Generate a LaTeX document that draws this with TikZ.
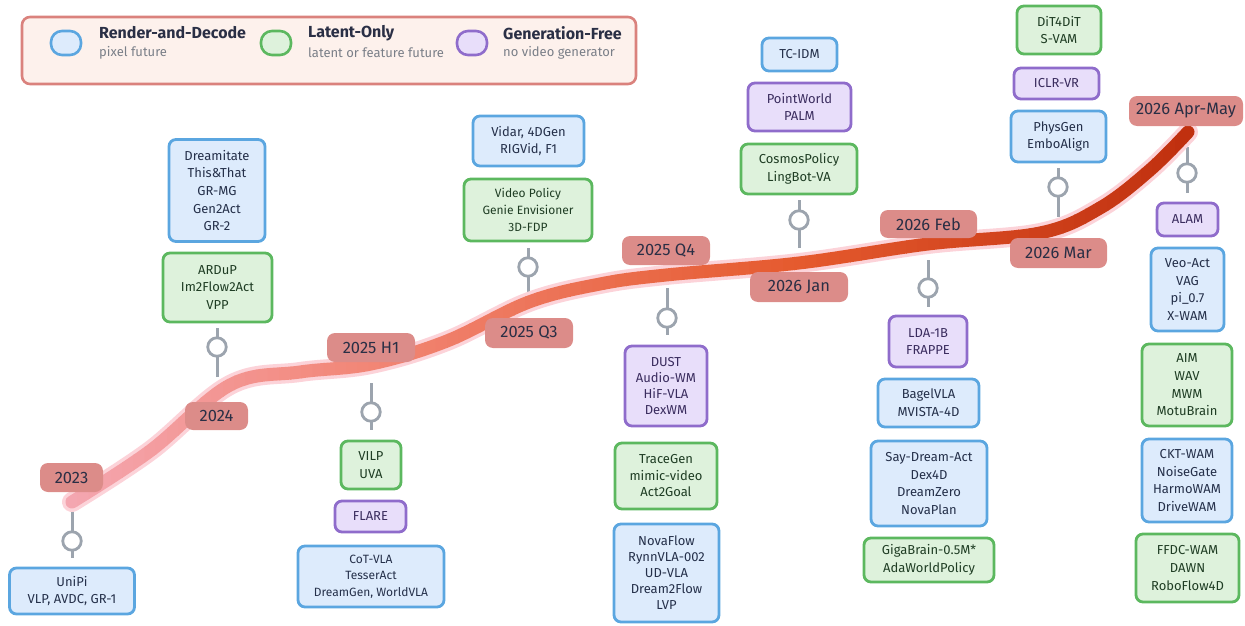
\documentclass[tikz,border=0pt]{standalone}
\usepackage{fontspec}
\setmainfont{Fira Sans}
\definecolor{bfill}{HTML}{DDEBFC}
\definecolor{bdraw}{HTML}{5BA6E0}
\definecolor{btext}{HTML}{25304A}
\definecolor{gfill}{HTML}{DEF2DC}
\definecolor{gdraw}{HTML}{5CB85F}
\definecolor{gtext}{HTML}{1F3D24}
\definecolor{pfill}{HTML}{E8DEFA}
\definecolor{pdraw}{HTML}{8F6CCB}
\definecolor{ptext}{HTML}{3A2C5E}
\definecolor{yfill}{HTML}{DC8C89}
\definecolor{ytext}{HTML}{2A2F45}
\definecolor{lgfill}{HTML}{FDF1EC}
\definecolor{lgdraw}{HTML}{DA827D}
\definecolor{subtext}{HTML}{7A7F88}
\definecolor{stemc}{HTML}{9CA4AE}
\definecolor{haloc}{HTML}{FCD3D9}
\definecolor{tlA}{HTML}{F4A6B0}
\definecolor{tlB}{HTML}{F28676}
\definecolor{tlC}{HTML}{E55A2E}
\definecolor{tlD}{HTML}{C0300F}
\tikzset{
  box/.style={rounded corners=7pt, line width=2.8pt, align=center, inner sep=0pt,
    font=\fontsize{13}{17.7}\selectfont},
  bbox/.style={box, draw=bdraw, fill=bfill, text=btext},
  gbox/.style={box, draw=gdraw, fill=gfill, text=gtext},
  pbox/.style={box, draw=pdraw, fill=pfill, text=ptext},
  yearpill/.style={fill=yfill, text=ytext, rounded corners=8pt, inner sep=0pt,
    font=\fontsize{16.5}{19}\selectfont},
  stemline/.style={draw=stemc, line width=3pt},
  dotc/.style={circle, draw=stemc, line width=2.8pt, fill=white, minimum size=18.5pt, inner sep=0pt},
  swatch/.style={rounded corners=11pt, line width=2.6pt, minimum width=30pt, minimum height=24pt, inner sep=0pt},
  lgtitle/.style={anchor=west, inner sep=0pt, text=ytext, font=\fontsize{16}{19}\selectfont\bfseries},
  lgsub/.style={anchor=west, inner sep=0pt, text=subtext, font=\fontsize{13}{15}\selectfont},
}
\begin{document}
\begin{tikzpicture}[x=1pt,y=-1pt]
\useasboundingbox (0,0) rectangle (1245,626);
% legend
\node[draw=lgdraw, fill=lgfill, line width=2.6pt, rounded corners=8pt, minimum width=614pt, minimum height=67pt, inner sep=0pt] (legend) at (329,50.5) {};
\node[swatch, draw=bdraw, fill=bfill] (swb) at (66,43) {};
\node[swatch, draw=gdraw, fill=gfill] (swg) at (276,43) {};
\node[swatch, draw=pdraw, fill=pfill] (swp) at (472,43) {};
\node[lgtitle] (lgbt) at (99,33) {Render-and-Decode};
\node[lgsub] (lgbs) at (99,53) {pixel future};
\node[lgtitle] (lggt) at (308,33) {Latent-Only};
\node[lgsub] (lggs) at (308,53) {latent or feature future};
\node[lgtitle] (lgpt) at (503,33) {Generation-Free};
\node[lgsub] (lgps) at (503,53) {no video generator};
% stems (box side / curve side)
\coordinate (s1a) at (72,512);   \coordinate (s1b) at (72,558);
\coordinate (s2a) at (217,377);  \coordinate (s2b) at (217,328);
\coordinate (s3a) at (371,383);  \coordinate (s3b) at (371,430);
\coordinate (s4a) at (528,295);  \coordinate (s4b) at (528,248);
\coordinate (s5a) at (667,288);  \coordinate (s5b) at (667,335);
\coordinate (s6a) at (799,248);  \coordinate (s6b) at (799,200);
\coordinate (s7a) at (928,260);  \coordinate (s7b) at (928,307);
\coordinate (s8a) at (1058,217); \coordinate (s8b) at (1058,168);
\coordinate (s9a) at (1187,147); \coordinate (s9b) at (1187,193);
\foreach \i in {1,...,9} {\draw[stemline] (s\i a) -- (s\i b);}
\node[dotc] (d1) at (72,541) {};
\node[dotc] (d2) at (217,347) {};
\node[dotc] (d3) at (371,412) {};
\node[dotc] (d4) at (528,267) {};
\node[dotc] (d5) at (667,318) {};
\node[dotc] (d6) at (799,220) {};
\node[dotc] (d7) at (928,288) {};
\node[dotc] (d8) at (1058,187) {};
\node[dotc] (d9) at (1187,173) {};
% timeline
\def\tlpts{(72,502) (150,451) (230,385) (300,372) (371,364) (447,341) (529,302) (600,284) (666,275) (799,263) (928,244) (1040,233) (1100,208) (1150,170) (1188,132)}
\draw[haloc, line width=20pt, line cap=round] plot[smooth, tension=0.6] coordinates {\tlpts};
\foreach \i in {0,...,105} {
  \pgfmathsetmacro\xa{55+\i*11.2}
  \pgfmathsetmacro\xb{\xa+11.8}
  \pgfmathsetmacro\xm{\xa+5.6}
  \ifdim\xm pt<370pt
    \pgfmathtruncatemacro\q{min(100,max(0,(370-\xm)/2.98))}\colorlet{segc}{tlA!\q!tlB}%
  \else\ifdim\xm pt<800pt
    \pgfmathtruncatemacro\q{min(100,max(0,(800-\xm)/4.3))}\colorlet{segc}{tlB!\q!tlC}%
  \else
    \pgfmathtruncatemacro\q{min(100,max(0,(1188-\xm)/3.88))}\colorlet{segc}{tlC!\q!tlD}%
  \fi\fi
  \begin{scope}
    \clip (\xa,0) rectangle (\xb,626);
    \draw[segc, line width=13pt, line cap=round] plot[smooth, tension=0.6] coordinates {\tlpts};
  \end{scope}
}
% year pills
\node[yearpill, minimum width=63pt, minimum height=29pt] (y2023) at (71.5,477.5) {2023};
\node[yearpill, minimum width=63pt, minimum height=28pt] (y2024) at (216.5,416) {2024};
\node[yearpill, minimum width=88pt, minimum height=29pt] (y25h1) at (371,347.5) {2025 H1};
\node[yearpill, minimum width=88pt, minimum height=30pt] (y25q3) at (529,333) {2025 Q3};
\node[yearpill, minimum width=88pt, minimum height=29pt] (y25q4) at (666,250.5) {2025 Q4};
\node[yearpill, minimum width=98pt, minimum height=30pt] (y26jan) at (799,287) {2026 Jan};
\node[yearpill, minimum width=97pt, minimum height=28pt] (y26feb) at (928.5,224) {2026 Feb};
\node[yearpill, minimum width=97pt, minimum height=30pt] (y26mar) at (1058.5,253) {2026 Mar};
\node[yearpill, minimum width=114pt, minimum height=30pt] (y26am) at (1186,111) {2026 Apr-May};
% boxes
\node[bbox, minimum width=125pt, minimum height=46pt] (b1) at (72,591) {UniPi\\VLP, AVDC, GR-1};
\node[bbox, minimum width=96pt, minimum height=102pt] (b2) at (217,190.5) {Dreamitate\\This\&That\\GR-MG\\Gen2Act\\GR-2};
\node[gbox, minimum width=109pt, minimum height=69pt] (b3) at (217.5,287.5) {ARDuP\\Im2Flow2Act\\VPP};
\node[gbox, minimum width=60pt, minimum height=48pt] (b4) at (371,465) {VILP\\UVA};
\node[pbox, minimum width=71pt, minimum height=31pt] (b5) at (370.5,516.5) {FLARE};
\node[bbox, minimum width=146pt, minimum height=61pt, font=\fontsize{12}{16.7}\selectfont] (b6) at (371,576.5) {CoT-VLA\\TesserAct\\DreamGen, WorldVLA};
\node[bbox, minimum width=111pt, minimum height=50pt] (b7) at (528.5,141) {Vidar, 4DGen\\RIGVid, F1};
\node[gbox, minimum width=128pt, minimum height=62pt, font=\fontsize{12}{16.7}\selectfont] (b8) at (528,210) {Video Policy\\Genie Envisioner\\3D-FDP};
\node[pbox, minimum width=82pt, minimum height=80pt, font=\fontsize{13}{16}\selectfont] (b9) at (666,386) {DUST\\Audio-WM\\HiF-VLA\\DexWM};
\node[gbox, minimum width=102pt, minimum height=66pt, font=\fontsize{13}{16.5}\selectfont] (b10) at (666,476) {TraceGen\\mimic-video\\Act2Goal};
\node[bbox, minimum width=105pt, minimum height=98pt, font=\fontsize{13}{16}\selectfont] (b11) at (666.5,573) {NovaFlow\\RynnVLA-002\\UD-VLA\\Dream2Flow\\LVP};
\node[bbox, minimum width=75pt, minimum height=33pt] (b12) at (799.5,54.5) {TC-IDM};
\node[pbox, minimum width=103pt, minimum height=48pt] (b13) at (799.5,107) {PointWorld\\PALM};
\node[gbox, minimum width=116pt, minimum height=50pt] (b14) at (799,169) {CosmosPolicy\\LingBot-VA};
\node[pbox, minimum width=78pt, minimum height=51pt] (b15) at (928,341.5) {LDA-1B\\FRAPPE};
\node[bbox, minimum width=101pt, minimum height=48pt] (b16) at (928.5,403) {BagelVLA\\MVISTA-4D};
\node[bbox, minimum width=116pt, minimum height=85pt] (b17) at (929,483.5) {Say-Dream-Act\\Dex4D\\DreamZero\\NovaPlan};
\node[gbox, minimum width=130pt, minimum height=44pt] (b18) at (929,560) {GigaBrain-0.5M*\\AdaWorldPolicy};
\node[gbox, minimum width=84pt, minimum height=48pt] (b19) at (1059,30) {DiT4DiT\\S-VAM};
\node[pbox, minimum width=85pt, minimum height=31pt] (b20) at (1056.5,83.5) {ICLR-VR};
\node[bbox, minimum width=95pt, minimum height=51pt] (b21) at (1058.5,136.5) {PhysGen\\EmboAlign};
\node[pbox, minimum width=61pt, minimum height=33pt] (b22) at (1187.5,219.5) {ALAM};
\node[bbox, minimum width=73pt, minimum height=83pt] (b23) at (1187.5,289.5) {Veo-Act\\VAG\\pi\_0.7\\X-WAM};
\node[gbox, minimum width=90pt, minimum height=82pt] (b24) at (1187,385) {AIM\\WAV\\MWM\\MotuBrain};
\node[bbox, minimum width=90pt, minimum height=83pt] (b25) at (1187,480.5) {CKT-WAM\\NoiseGate\\HarmoWAM\\DriveWAM};
\node[gbox, minimum width=103pt, minimum height=68pt] (b26) at (1187.5,568) {FFDC-WAM\\DAWN\\RoboFlow4D};
\end{tikzpicture}
\end{document}
